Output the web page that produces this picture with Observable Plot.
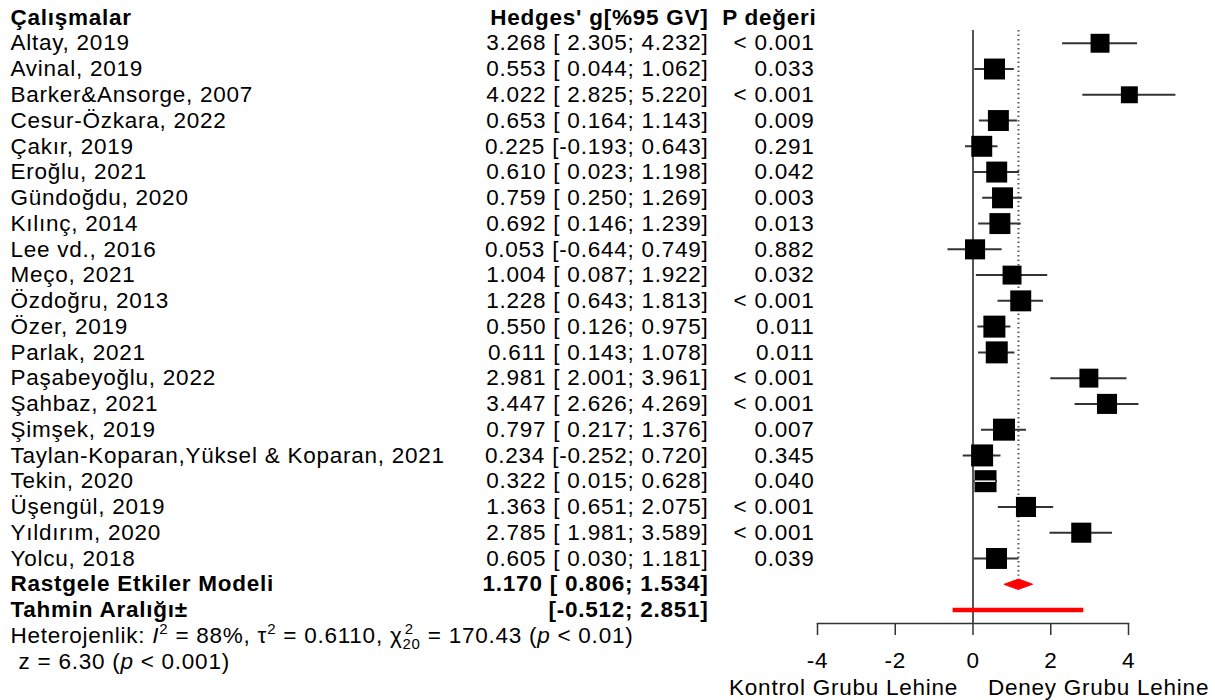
<!DOCTYPE html>
<html><head><meta charset="utf-8">
<script src="https://cdn.jsdelivr.net/npm/d3@7"></script>
<script src="https://cdn.jsdelivr.net/npm/@observablehq/plot@0.6"></script>
<style>
body{margin:0;background:#fff;}
#chart svg{font-family:"Liberation Sans",Arial,sans-serif;letter-spacing:0.75px;}
</style>
</head><body><div id="chart"></div>
<script>
// ---- data ----
const studies = ["Altay, 2019","Avinal, 2019","Barker&Ansorge, 2007","Cesur-Özkara, 2022","Çakır, 2019","Eroğlu, 2021","Gündoğdu, 2020","Kılınç, 2014","Lee vd., 2016","Meço, 2021","Özdoğru, 2013","Özer, 2019","Parlak, 2021","Paşabeyoğlu, 2022","Şahbaz, 2021","Şimşek, 2019","Taylan-Koparan,Yüksel & Koparan, 2021","Tekin, 2020","Üşengül, 2019","Yıldırım, 2020","Yolcu, 2018"];
const hedgesG = [3.268,0.553,4.022,0.653,0.225,0.610,0.759,0.692,0.053,1.004,1.228,0.550,0.611,2.981,3.447,0.797,0.234,0.322,1.363,2.785,0.605];
const ciLower = [2.305,0.044,2.825,0.164,-0.193,0.023,0.250,0.146,-0.644,0.087,0.643,0.126,0.143,2.001,2.626,0.217,-0.252,0.015,0.651,1.981,0.030];
const ciUpper = [4.232,1.062,5.220,1.143,0.643,1.198,1.269,1.239,0.749,1.922,1.813,0.975,1.078,3.961,4.269,1.376,0.720,0.628,2.075,3.589,1.181];
const pValues = ["< 0.001","0.033","< 0.001","0.009","0.291","0.042","0.003","0.013","0.882","0.032","< 0.001","0.011","0.011","< 0.001","< 0.001","0.007","0.345","0.040","< 0.001","< 0.001","0.039"];
// approximate study weights (%)
const weights = [4.0,4.9,3.2,4.9,4.9,4.9,4.9,4.9,4.5,4.0,4.9,5.4,5.4,4.0,4.5,5.4,5.4,5.4,4.5,4.5,4.9];
const pooledEst = 1.170, pooledLower = 0.806, pooledUpper = 1.534;
const predLower = -0.512, predUpper = 2.851;
const xTicks = [-4,-2,0,2,4];
const xDomain = [-4,4];
const headers = ["Çalışmalar","Hedges' g[%95 GV]","P değeri"];
const pooledLabel = "Rastgele Etkiler Modeli";
const predLabel = "Tahmin Aralığı±";
const sideLabels = ["Kontrol Grubu Lehine","Deney Grubu Lehine"];
const hetText = "Heterojenlik: I2 = 88%, τ2 = 0.6110, χ2 20 = 170.43 (p < 0.01)";
const zText = "z = 6.30 (p < 0.001)";

// ---- build ----
const fmt = v => d3.format(".3f")(v).replace("\u2212", "-");
const ci = (lo, hi) => `[${lo < 0 ? "" : " "}${fmt(lo)}; ${fmt(hi)}]`;
const data = studies.map((s, i) => ({
  row: i + 1, study: s, g: hedgesG[i], lo: ciLower[i], hi: ciUpper[i], p: pValues[i], w: weights[i],
  ciText: `${fmt(hedgesG[i])} ${ci(ciLower[i], ciUpper[i])}`
}));
const n = studies.length;
const pooledRow = n + 1, predRow = n + 2, hetRow = n + 3, zRow = n + 4;
const diamond = [
  {x: pooledLower, y: pooledRow}, {x: pooledEst, y: pooledRow - 0.2},
  {x: pooledUpper, y: pooledRow}, {x: pooledEst, y: pooledRow + 0.2}
];

const W = 1215, H = 700, mL = 817, mR = 87;
const fs = 22.5;
const colName = -(mL - 10), colCI = -(mL - 708), colP = -(mL - 814);
const T = {fontSize: fs, frameAnchor: "left", fill: "black"};

const plot = Plot.plot({
  width: W, height: H,
  marginLeft: mL, marginRight: mR, marginTop: 30, marginBottom: 77,
  x: {domain: xDomain},
  y: {domain: [0, zRow], range: [17, 661], axis: null},
  r: {type: "sqrt", domain: [0, d3.max(weights)], range: [0, 22 / Math.sqrt(Math.PI)]},
  style: {fontFamily: "'Liberation Sans', Arial, sans-serif", background: "white", overflow: "visible"},
  marks: [
    Plot.frame({anchor: "bottom", stroke: "#333", strokeWidth: 1.5}),
    Plot.axisX({ticks: xTicks, tickSize: 12, tickPadding: 17, fontSize: fs, label: null,
      tickFormat: d => String(d), stroke: "#333", strokeWidth: 1.5, fill: "black"}),
    Plot.text([sideLabels[0]], {x: 0, text: d => d, frameAnchor: "bottom", lineAnchor: "middle", dy: 64, dx: -15, textAnchor: "end", fontSize: fs}),
    Plot.text([sideLabels[1]], {x: 0, text: d => d, frameAnchor: "bottom", lineAnchor: "middle", dy: 64, dx: 15, textAnchor: "start", fontSize: fs}),
    Plot.ruleX([0], {stroke: "#555", strokeWidth: 2}),
    Plot.ruleX([pooledEst], {y1: 0.5, y2: pooledRow, insetBottom: 8, stroke: "#555", strokeWidth: 2, strokeDasharray: "1.5,3"}),
    Plot.ruleY(data, {y: "row", x1: "lo", x2: "hi", stroke: "#333", strokeWidth: 2}),
    Plot.dot(data, {x: "g", y: "row", r: "w", symbol: "square", fill: "black", stroke: null}),
    Plot.ruleY(data.filter(d => d.hi - d.lo < 0.7), {y: "row", x1: "lo", x2: "hi", stroke: "white", strokeWidth: 1.5, insetLeft: 1.5, insetRight: 1.5}),
    Plot.line(diamond, {x: "x", y: "y", fill: "red", stroke: "red", strokeWidth: 1, curve: "linear-closed"}),
    Plot.ruleY([predRow], {x1: predLower, x2: predUpper, stroke: "red", strokeWidth: 4.5}),
    // headers
    Plot.text([headers[0]], {...T, y: 0, text: d => d, dx: colName, textAnchor: "start", fontWeight: "bold"}),
    Plot.text([headers[1]], {...T, y: 0, text: d => d, dx: colCI, textAnchor: "end", fontWeight: "bold"}),
    Plot.text([headers[2]], {...T, y: 0, text: d => d, dx: colP + 2, textAnchor: "end", fontWeight: "bold"}),
    // study rows
    Plot.text(data, {...T, y: "row", text: "study", dx: colName, textAnchor: "start"}),
    Plot.text(data, {...T, y: "row", text: "ciText", dx: colCI, textAnchor: "end"}),
    Plot.text(data, {...T, y: "row", text: "p", dx: colP, textAnchor: "end"}),
    // pooled rows
    Plot.text([pooledLabel], {...T, y: pooledRow, text: d => d, dx: colName, textAnchor: "start", fontWeight: "bold"}),
    Plot.text([`${fmt(pooledEst)} ${ci(pooledLower, pooledUpper)}`], {...T, y: pooledRow, text: d => d, dx: colCI, textAnchor: "end", fontWeight: "bold"}),
    Plot.text([predLabel], {...T, y: predRow, text: d => d, dx: colName, textAnchor: "start", fontWeight: "bold"}),
    Plot.text([ci(predLower, predUpper)], {...T, y: predRow, text: d => d, dx: colCI, textAnchor: "end", fontWeight: "bold"}),
    Plot.text([hetText], {...T, y: hetRow, text: d => d, dx: colName, textAnchor: "start"}),
    Plot.text([zText], {...T, y: zRow, text: d => d, dx: colName + 8, textAnchor: "start"})
  ]
});

// rich formatting for the statistics lines (super/subscripts, italics)
const svg = d3.select(plot);
svg.selectAll("text").filter(function () { return this.textContent === hetText; })
  .html(`Heterojenlik: <tspan font-style="italic">I</tspan><tspan dy="-9" font-size="15">2</tspan><tspan dy="9"> = 88%, τ</tspan><tspan dy="-9" font-size="15">2</tspan><tspan dy="9"> = 0.6110, χ</tspan><tspan dy="6" font-size="15">20</tspan><tspan dy="-15" dx="-16" font-size="15">2</tspan><tspan dy="9" dx="7"> = 170.43 (</tspan><tspan font-style="italic">p</tspan> &lt; 0.01)`);
svg.selectAll("text").filter(function () { return this.textContent === zText; })
  .html(`z = 6.30 (<tspan font-style="italic">p</tspan> &lt; 0.001)`);

document.getElementById("chart").appendChild(plot);
</script>
</body></html>
